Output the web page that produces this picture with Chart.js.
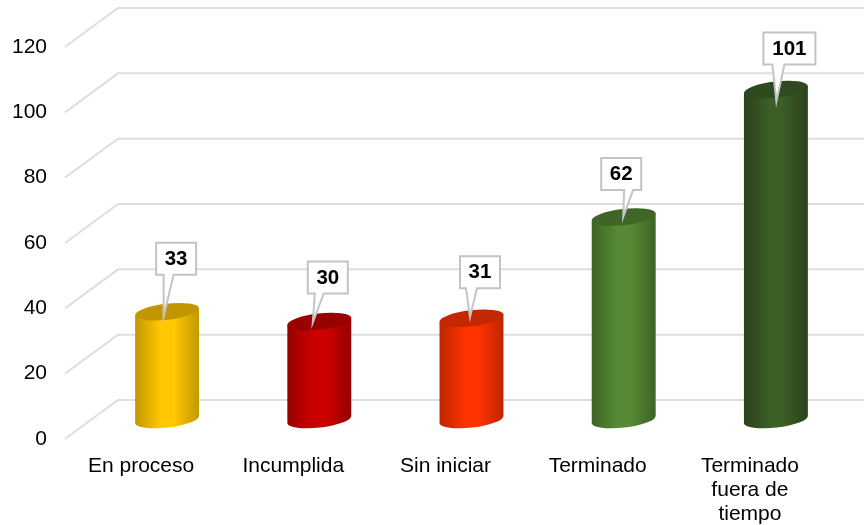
<!DOCTYPE html>
<html><head><meta charset="utf-8">
<style>html,body{margin:0;padding:0;background:#fff}canvas{display:block;filter:blur(0.4px)}</style>
<script src="https://cdn.jsdelivr.net/npm/chart.js@4"></script></head>
<body><canvas id="c" width="864" height="525"></canvas>
<script>
const categories = ["En proceso","Incumplida","Sin iniciar","Terminado",["Terminado","fuera de","tiempo"]];
const values = [33,30,31,62,101];
const baseColors = ["#FFC800","#CC0000","#FF3300","#568A35","#3C5F26"];
const edgeColors = ["#C49800","#960000","#BE2600","#3D6425","#2A4219"];
const capColors  = ["#C29600","#990000","#C42800","#3F6527","#2F4A1E"];
const yTicks = [0,20,40,60,80,100,120];

const DEPTH_X = 53, DEPTH_Y = 39;
const TILT = -6.5 * Math.PI / 180, MINOR = 8;
// callout layout relative to the top centre of each cylinder
const boxDx = [8.5,8,8,-3,13], boxDy = [-53,-44,-46,-43,-41], boxW = [40,40,40,40,52];
const tipDx = [-4,-7,-2,-1,0], tipDy = [5,1,-1,0,12];
const stemL = [-4,-5,-6,0,-4], stemR = [6,4,5,9,8];

const plot3d = {
  id:'plot3d',
  beforeDatasetsDraw(chart){
    const {ctx,scales:{y},chartArea:a} = chart;
    ctx.save();
    ctx.strokeStyle='#dedede'; ctx.lineWidth=2; ctx.lineJoin='miter';
    y.ticks.forEach(t=>{
      const py=y.getPixelForValue(t.value);
      ctx.beginPath();
      ctx.moveTo(a.left,py);
      ctx.lineTo(a.left+DEPTH_X,py-DEPTH_Y);
      ctx.lineTo(chart.width,py-DEPTH_Y);
      ctx.stroke();
    });
    ctx.restore();
  },
  beforeDatasetDraw(chart,args){
    const {ctx} = chart, meta=args.meta;
    meta.data.forEach((bar,i)=>{
      const cx=bar.x+DEPTH_X/2-0.5, top=bar.y-DEPTH_Y/2, bot=bar.base-DEPTH_Y/2, rx=bar.width/2;
      const dy=rx*Math.sin(-TILT), R=rx/Math.cos(TILT);
      const g=ctx.createLinearGradient(cx-rx,0,cx+rx,0);
      g.addColorStop(0,edgeColors[i]);
      g.addColorStop(0.4,baseColors[i]);
      g.addColorStop(0.6,baseColors[i]);
      g.addColorStop(1,edgeColors[i]);
      ctx.save();
      ctx.fillStyle=g;
      ctx.beginPath();
      ctx.moveTo(cx-rx,top+dy);
      ctx.lineTo(cx-rx,bot+dy);
      ctx.ellipse(cx,bot,R,MINOR,TILT,Math.PI,0,true);
      ctx.lineTo(cx+rx,top-dy);
      ctx.closePath();
      ctx.fill();
      ctx.fillStyle=capColors[i];
      ctx.beginPath();
      ctx.ellipse(cx,top,R,MINOR,TILT,0,Math.PI*2);
      ctx.fill();
      ctx.restore();
    });
    return false;
  },
  afterDatasetsDraw(chart){
    const {ctx} = chart, meta=chart.getDatasetMeta(0);
    meta.data.forEach((bar,i)=>{
      const cx=bar.x+DEPTH_X/2, top=bar.y-DEPTH_Y/2;
      const bx=cx+boxDx[i], by=top+boxDy[i], w=boxW[i], h=32;
      const l=bx-w/2, r=bx+w/2, t=by-h/2, b=by+h/2;
      ctx.save();
      ctx.fillStyle='#fff'; ctx.strokeStyle='#c4c4c4'; ctx.lineWidth=2;
      ctx.beginPath();
      ctx.moveTo(l,t); ctx.lineTo(r,t); ctx.lineTo(r,b);
      ctx.lineTo(cx+stemR[i],b);
      ctx.lineTo(cx+tipDx[i],top+tipDy[i]);
      ctx.lineTo(cx+stemL[i],b);
      ctx.lineTo(l,b); ctx.closePath();
      ctx.fill(); ctx.stroke();
      ctx.fillStyle='#000';
      ctx.font='bold 20.5px "Liberation Sans", Arial, sans-serif';
      ctx.textAlign='center'; ctx.textBaseline='middle';
      ctx.fillText(String(values[i]),bx,by+0.5);
      ctx.restore();
    });
  }
};

new Chart(document.getElementById('c'),{
  type:'bar',
  data:{labels:categories,datasets:[{data:values,backgroundColor:baseColors,barPercentage:0.42,categoryPercentage:1}]},
  options:{
    responsive:false,animation:false,devicePixelRatio:1,
    layout:{padding:{top:47,right:38,left:0,bottom:0}},
    plugins:{legend:{display:false},tooltip:{enabled:false}},
    scales:{
      x:{
        grid:{display:false,drawTicks:false},border:{display:false},
        afterFit(s){s.height=86;},
        ticks:{color:'#000',autoSkip:false,maxRotation:0,padding:15,
          font:{family:'"Liberation Sans", Arial, sans-serif',size:21,lineHeight:1.15}}
      },
      y:{
        min:0,max:120,
        grid:{display:false,drawTicks:false},border:{display:false},
        afterFit(s){s.width=65;},
        afterBuildTicks(s){s.ticks=yTicks.map(v=>({value:v}));},
        ticks:{color:'#000',padding:18,
          font:{family:'"Liberation Sans", Arial, sans-serif',size:21}}
      }
    }
  },
  plugins:[plot3d]
});
</script></body></html>
